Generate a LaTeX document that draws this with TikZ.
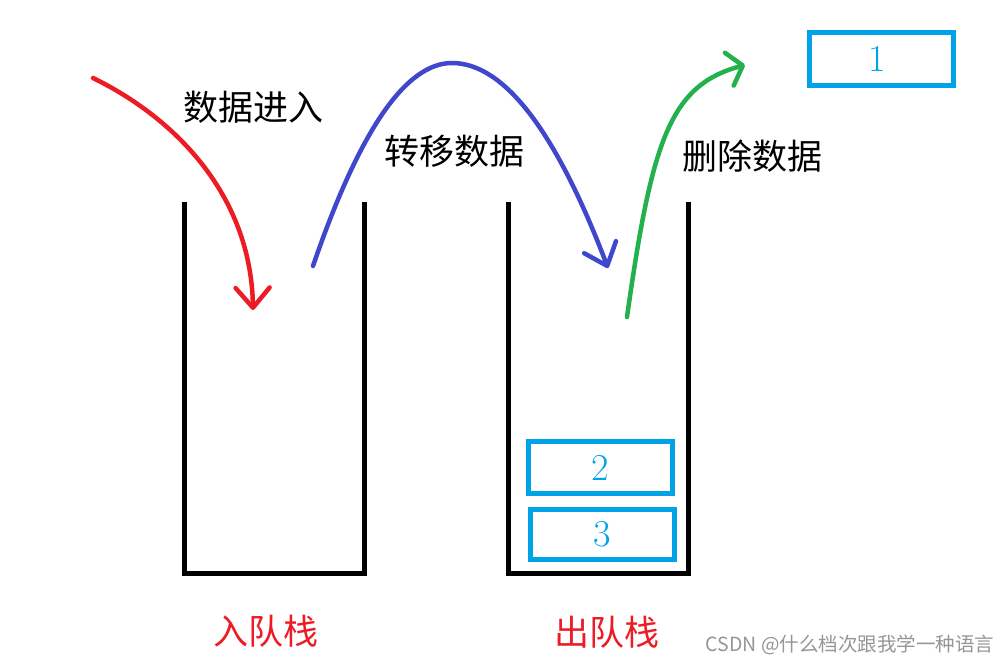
\documentclass[tikz,border=0pt]{standalone}
\usepackage{fontspec}
\newfontfamily\cjk{Noto Sans CJK SC}
\usetikzlibrary{arrows.meta}
\definecolor{pred}{RGB}{237,28,36}
\definecolor{pblue}{RGB}{63,72,204}
\definecolor{pgreen}{RGB}{34,177,76}
\definecolor{pcyan}{RGB}{0,162,232}
\definecolor{wgray}{RGB}{150,150,150}
\tikzset{
  stackline/.style={line width=5pt, line join=miter, draw=black},
  databox/.style={draw=pcyan, line width=5pt, rectangle, inner sep=0pt,
    text=pcyan, font=\fontsize{38}{38}\selectfont},
  arr/.style={line width=4.5pt, line cap=round, line join=round,
    -{Straight Barb[length=20pt,width=34pt,line cap=round,line join=round]}},
  caption/.style={inner sep=0pt, font=\cjk\fontsize{35}{35}\selectfont},
}
\begin{document}
\begin{tikzpicture}[x=1pt,y=-1pt]
\useasboundingbox[fill=white] (0,0) rectangle (1008,667);
% stacks
\coordinate (s1tl) at (184.5,202);
\coordinate (s1bl) at (184.5,573);
\coordinate (s1br) at (364.5,573);
\coordinate (s1tr) at (364.5,202);
\coordinate (s2tl) at (508.5,202);
\coordinate (s2bl) at (508.5,573);
\coordinate (s2br) at (688.5,573);
\coordinate (s2tr) at (688.5,202);
\draw[stackline] (s1tl) -- (s1bl) -- (s1br) -- (s1tr);
\draw[stackline] (s2tl) -- (s2bl) -- (s2br) -- (s2tr);
% boxes
\node[databox, minimum width=144pt, minimum height=53pt] (b1) at (881.5,59) {\hspace*{-9pt}1};
\node[databox, minimum width=144pt, minimum height=52pt] (b2) at (600.5,467.5) {2};
\node[databox, minimum width=144pt, minimum height=50pt] (b3) at (602.5,534.5) {3};
% arrows
\coordinate (rs) at (93,78);
\coordinate (re) at (253,310);
\draw[arr, draw=pred] (rs) .. controls (175,118) and (251,195) .. (re);
\coordinate (bs) at (313,266);
\coordinate (bp) at (452,63);
\coordinate (be) at (608,268);
\draw[arr, draw=pblue] (bs) .. controls (359.3,130.7) and (405.7,63) .. (bp)
  .. controls (504,63) and (556,131.3) .. (be);
\coordinate (gs) at (627,317);
\coordinate (ge) at (745,65);
\draw[arr, draw=pgreen, -{Straight Barb[length=14pt,width=34pt,line cap=round,line join=round]}]
  (gs) .. controls (652,140) and (670,85) .. (ge);
% texts
\node[caption] (t1) at (253,107) {数据进入};
\node[caption] (t2) at (454,151) {转移数据};
\node[caption] (t3) at (752,156) {删除数据};
\node[caption, text=pred] (l1) at (266,631) {入队栈};
\node[caption, text=pred] (l2) at (607,632) {出队栈};
\node[inner sep=0pt, text=wgray, font=\cjk\fontsize{19.5}{19.5}\selectfont] (wm) at (850,645) {CSDN @什么档次跟我学一种语言};
\end{tikzpicture}
\end{document}
